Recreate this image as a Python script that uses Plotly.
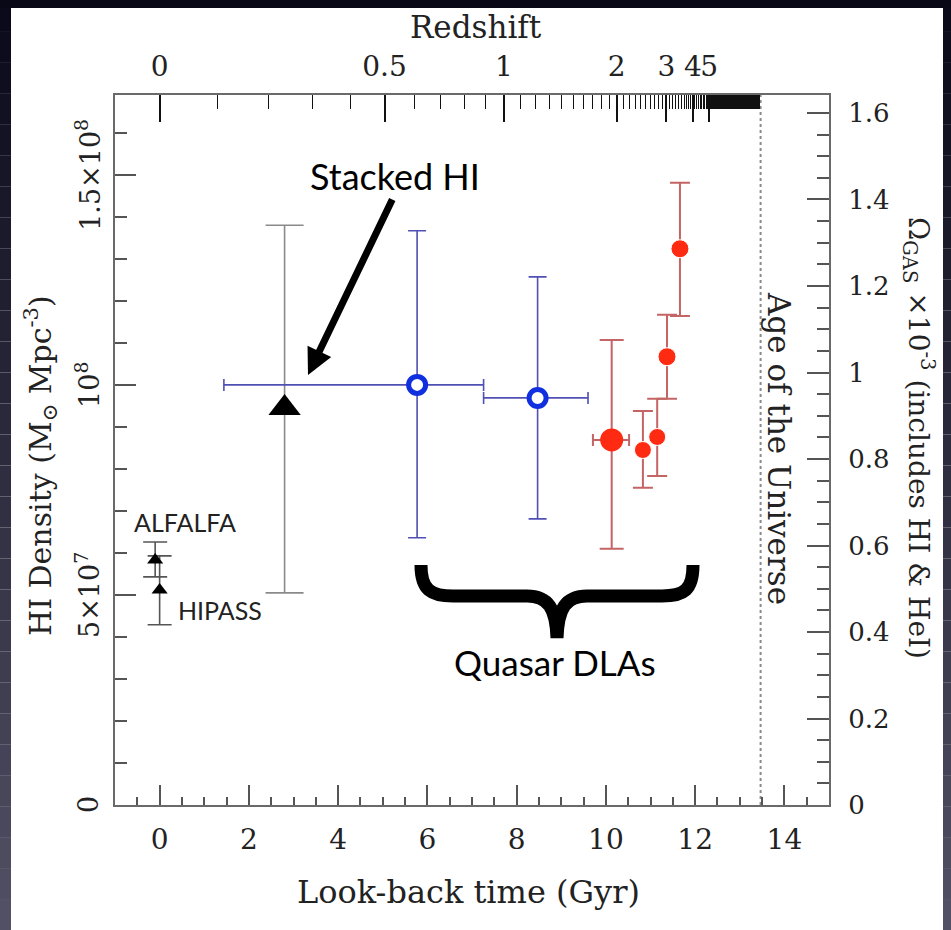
import numpy as np
import plotly.graph_objects as go

# ---------------- data ----------------
# Local 21cm surveys (small black triangles)
local_names = ["ALFALFA", "HIPASS"]
local_t = [-0.1, 0.0]
local_rho = [5.83e7, 5.12e7]
local_hi = [6.26e7, 5.93e7]
local_lo = [5.43e7, 4.29e7]

# Stacked HI (big black triangle)
stack_t = [2.8]
stack_rho = [9.45e7]
stack_hi = [1.38e8]
stack_lo = [5.05e7]

# intermediate-redshift points (open blue circles)
mg_t = [5.77, 8.47]
mg_rho = [1.00e8, 9.69e7]
mg_hi = [1.367e8, 1.257e8]
mg_lo = [6.36e7, 6.81e7]
mg_tmin = [1.44, 7.26]
mg_tmax = [7.26, 9.60]

# Quasar DLAs (red filled circles)
dla_big_t = [10.13]
dla_big_rho = [8.69e7]
dla_big_hi = [1.107e8]
dla_big_lo = [6.10e7]
dla_big_tmin = [9.71]
dla_big_tmax = [10.52]

dla_t = [10.83, 11.15, 11.37, 11.66]
dla_rho = [8.45e7, 8.76e7, 1.067e8, 1.324e8]
dla_hi = [9.38e7, 9.67e7, 1.167e8, 1.481e8]
dla_lo = [7.55e7, 7.83e7, 9.67e7, 1.164e8]
dla_size = [17, 17, 18, 18]

# Axis ticks
x_ticks = [0, 2, 4, 6, 8, 10, 12, 14]
left_tickvals = [0, 5e7, 1e8, 1.5e8]
left_ticktext = ["0", "5×10<sup>7</sup>", "10<sup>8</sup>", "1.5×10<sup>8</sup>"]
right_tickvals = [0, 0.2, 0.4, 0.6, 0.8, 1.0, 1.2, 1.4, 1.6]
right_ticktext = ["0", "0.2", "0.4", "0.6", "0.8", "1", "1.2", "1.4", "1.6"]
z_major = [0, 0.5, 1, 2, 3, 4, 5, 6, 7, 8, 9, 10]
z_major_text = ["0", "0.5", "1", "2", "3", "4", "5", "", "", "", "", ""]
z_minor = [round(v, 1) for v in np.arange(0.1, 100.01, 0.1)]

# ---------------- cosmology scale for the redshift axis ----------------
H0, OM, OL = 70.0, 0.3, 0.7
TH = 977.8 / H0  # Hubble time in Gyr


def lookback(z):
    a = np.linspace(1.0 / (1.0 + z), 1.0, 3000)
    f = 1.0 / np.sqrt(OM / a + OL * a ** 2)
    return TH * np.trapezoid(f, a)


def age():
    a = np.linspace(1e-9, 1.0, 200000)
    f = 1.0 / np.sqrt(OM / a + OL * a ** 2)
    return TH * np.trapezoid(f, a)


t_major = [lookback(z) for z in z_major]
t_minor = [lookback(z) for z in z_minor]
AGE = age()

XMIN, XMAX = -1.0, 15.0
YMAX = 1.69e8
Y2MAX = 1.6416

W, H = 951, 930
ML, MR, MT, MB = 115, 122, 95, 125
PW, PH = W - ML - MR, H - MT - MB


def dx(px):
    return XMIN + (px - ML) / PW * (XMAX - XMIN)


def dy(py):
    return (MT + PH - py) / PH * YMAX


def pxp(px):
    return (px - ML) / PW


def pyp(py):
    return (MT + PH - py) / PH


def diff(a, b):
    return [x - y for x, y in zip(a, b)]


serif = "DejaVu Serif"
sans = "Lato"
txt = "#222222"

fig = go.Figure()

# Stacked HI
fig.add_trace(go.Scatter(
    x=stack_t, y=stack_rho, mode="markers",
    marker=dict(symbol="triangle-up", size=28, color="black", opacity=1),
    error_y=dict(type="data", symmetric=False, array=diff(stack_hi, stack_rho),
                 arrayminus=diff(stack_rho, stack_lo), color="#8a8a8a", thickness=1.6, width=19),
    showlegend=False, hoverinfo="skip"))

# Local surveys
fig.add_trace(go.Scatter(
    x=local_t, y=local_rho, mode="markers",
    marker=dict(symbol="triangle-up", size=14, color="black", opacity=1),
    error_y=dict(type="data", symmetric=False, array=diff(local_hi, local_rho),
                 arrayminus=diff(local_rho, local_lo), color="#555555", thickness=1.6, width=12),
    showlegend=False, hoverinfo="skip"))

# Blue points
fig.add_trace(go.Scatter(
    x=mg_t, y=mg_rho, mode="markers",
    marker=dict(symbol="circle", size=17, color="white", opacity=1,
                line=dict(color="#1030e0", width=5)),
    error_y=dict(type="data", symmetric=False, array=diff(mg_hi, mg_rho),
                 arrayminus=diff(mg_rho, mg_lo), color="#5050b4", thickness=1.6, width=9),
    error_x=dict(type="data", symmetric=False, array=diff(mg_tmax, mg_t),
                 arrayminus=diff(mg_t, mg_tmin), color="#5050b4", thickness=1.6, width=6),
    showlegend=False, hoverinfo="skip"))

# Red DLA points
fig.add_trace(go.Scatter(
    x=dla_big_t, y=dla_big_rho, mode="markers",
    marker=dict(symbol="circle", size=23, color="#ff2a12", opacity=1),
    error_y=dict(type="data", symmetric=False, array=diff(dla_big_hi, dla_big_rho),
                 arrayminus=diff(dla_big_rho, dla_big_lo), color="#c46464", thickness=2, width=12),
    error_x=dict(type="data", symmetric=False, array=diff(dla_big_tmax, dla_big_t),
                 arrayminus=diff(dla_big_t, dla_big_tmin), color="#c46464", thickness=2, width=6),
    showlegend=False, hoverinfo="skip"))
fig.add_trace(go.Scatter(
    x=dla_t, y=dla_rho, mode="markers",
    marker=dict(symbol="circle", size=dla_size, color="#ff2a12", opacity=1),
    error_y=dict(type="data", symmetric=False, array=diff(dla_hi, dla_rho),
                 arrayminus=diff(dla_rho, dla_lo), color="#c46464", thickness=2, width=10),
    showlegend=False, hoverinfo="skip"))

# invisible anchors for secondary axes
fig.add_trace(go.Scatter(x=[AGE], y=[0.5], xaxis="x2", yaxis="y", mode="markers",
                         marker=dict(opacity=0), showlegend=False, hoverinfo="skip"))
fig.add_trace(go.Scatter(x=[0], y=[0.5], xaxis="x", yaxis="y2", mode="markers",
                         marker=dict(opacity=0), showlegend=False, hoverinfo="skip"))

axis_common = dict(showgrid=False, zeroline=False, showline=True, linecolor="#6a6a6a",
                   linewidth=2, ticks="inside")

fig.update_layout(
    width=W, height=H,
    margin=dict(l=ML, r=MR, t=MT, b=MB, autoexpand=False),
    paper_bgcolor="white", plot_bgcolor="white",
    xaxis=dict(**axis_common, range=[XMIN, XMAX], tickmode="array", tickvals=x_ticks,
               ticklen=20, tickwidth=2, tickcolor="#555555", tickangle=0,
               minor=dict(dtick=0.5, tick0=0, ticks="inside", ticklen=8, tickwidth=2, tickcolor="#555555"),
               tickfont=dict(family=serif, size=28, color=txt), ticklabelstandoff=8),
    xaxis2=dict(**axis_common, range=[XMIN, XMAX], overlaying="x", side="top", anchor="y",
                tickmode="array", tickvals=t_major, ticktext=z_major_text, tickangle=0,
                ticklen=27, tickwidth=1.5, tickcolor="#111111",
                minor=dict(tickmode="array", tickvals=t_minor, ticks="inside", ticklen=14,
                           tickwidth=1.2, tickcolor="#111111"),
                tickfont=dict(family=serif, size=28, color=txt), ticklabelstandoff=6),
    yaxis=dict(**axis_common, range=[0, YMAX], tickmode="array", tickvals=left_tickvals,
               showticklabels=False,
               ticklen=21, tickwidth=2, tickcolor="#555555",
               minor=dict(dtick=1e7, tick0=0, ticks="inside", ticklen=12, tickwidth=2, tickcolor="#555555")),
    yaxis2=dict(**axis_common, range=[0, Y2MAX], overlaying="y", side="right", anchor="x",
                tickmode="array", tickvals=right_tickvals, ticktext=right_ticktext, tickangle=0,
                ticklen=22, tickwidth=2, tickcolor="#555555",
                minor=dict(dtick=0.05, tick0=0, ticks="inside", ticklen=12, tickwidth=2, tickcolor="#555555"),
                tickfont=dict(family=serif, size=26, color=txt), ticklabelstandoff=12),
)

shapes = []
# age of the universe dotted line
shapes.append(dict(type="line", xref="x", yref="paper", x0=AGE, x1=AGE, y0=0, y1=1,
                   line=dict(color="#8a8a8a", width=2, dash="dot"), layer="below"))

# curly brace under the quasar DLAs
bp = [(421, 565), (421, 590), (431, 596), (453, 596), (527, 596), (548, 596), (556, 608), (557, 638),
      (558, 608), (566, 596), (587, 596), (662, 596), (684, 596), (693, 590), (693, 565)]
P = [(pxp(a), pyp(b)) for a, b in bp]
path = "M {0[0]},{0[1]} C {1[0]},{1[1]} {2[0]},{2[1]} {3[0]},{3[1]} L {4[0]},{4[1]} " \
       "C {5[0]},{5[1]} {6[0]},{6[1]} {7[0]},{7[1]} C {8[0]},{8[1]} {9[0]},{9[1]} {10[0]},{10[1]} " \
       "L {11[0]},{11[1]} C {12[0]},{12[1]} {13[0]},{13[1]} {14[0]},{14[1]}".format(*P)
shapes.append(dict(type="path", xref="paper", yref="paper", path=path,
                   line=dict(color="black", width=13)))


# dark slide background at the edges
def strip(x0, x1, y0, y1, c0, c1, n):
    out = []
    c0 = np.array(c0, float)
    c1 = np.array(c1, float)
    for i in range(n):
        f = i / max(n - 1, 1)
        c = (c0 + (c1 - c0) * f).astype(int)
        ya = y0 + (y1 - y0) * i / n
        yb = y0 + (y1 - y0) * (i + 1) / n
        out.append(dict(type="rect", xref="paper", yref="paper", x0=pxp(x0), x1=pxp(x1),
                        y0=pyp(ya), y1=pyp(yb), line=dict(width=0),
                        fillcolor="rgb({},{},{})".format(*c), layer="above"))
    return out


shapes += strip(0, 11, 0, H + 1, (10, 10, 26), (82, 80, 100), 30)
shapes += strip(943, W + 1, 0, H + 1, (10, 10, 26), (82, 80, 100), 30)
shapes.append(dict(type="rect", xref="paper", yref="paper", x0=pxp(0), x1=pxp(W + 1),
                   y0=pyp(-1), y1=pyp(8), line=dict(width=0), fillcolor="rgb(8,8,22)", layer="above"))

fig.update_layout(shapes=shapes)

C = dict(xanchor="center", yanchor="middle", showarrow=False)
ann = []
# left tick labels (rotated)
for v, t in zip(left_tickvals, left_ticktext):
    ann.append(dict(text=t, xref="paper", yref="y", x=pxp(88), y=v, textangle=-90,
                    font=dict(family=serif, size=27, color=txt), **C))
# axis titles
ann.append(dict(text="Redshift", xref="paper", yref="paper", x=pxp(476), y=pyp(27),
                font=dict(family=serif, size=31, color=txt), **C))
ann.append(dict(text="Look-back time (Gyr)", xref="paper", yref="paper", x=pxp(468), y=pyp(892),
                font=dict(family=serif, size=32, color=txt), **C))
ann.append(dict(text="HI Density (M<sub>⊙</sub> Mpc<sup>-3</sup>)", xref="paper", yref="paper",
                x=pxp(40), y=pyp(466), textangle=-90,
                font=dict(family=serif, size=30, color=txt), **C))
ann.append(dict(text="Ω<sub>GAS</sub> ×10<sup>-3</sup> (includes HI & HeI)", xref="paper", yref="paper",
                x=pxp(919), y=pyp(438), textangle=90,
                font=dict(family=serif, size=28, color=txt), **C))
ann.append(dict(text="Age of the Universe", xref="paper", yref="paper",
                x=pxp(779), y=pyp(448), textangle=90,
                font=dict(family=serif, size=31, color=txt), **C))
# labels
ann.append(dict(text="Stacked HI", x=dx(395), y=dy(176),
                font=dict(family=sans, size=36, color="black"), **C))
ann.append(dict(text="", x=dx(308), y=dy(375), ax=85, ay=-177, showarrow=True,
                arrowhead=2, arrowsize=0.75, arrowwidth=7, arrowcolor="black", standoff=0))
ann.append(dict(text="Quasar DLAs", x=dx(555), y=dy(662),
                font=dict(family=sans, size=35, color="black"), **C))
ann.append(dict(text="ALFALFA", x=dx(185), y=dy(522),
                font=dict(family=sans, size=25, color=txt), **C))
ann.append(dict(text="HIPASS", x=dx(220), y=dy(610),
                font=dict(family=sans, size=25, color=txt), **C))
fig.update_layout(annotations=ann)

fig.write_html("out.html")
